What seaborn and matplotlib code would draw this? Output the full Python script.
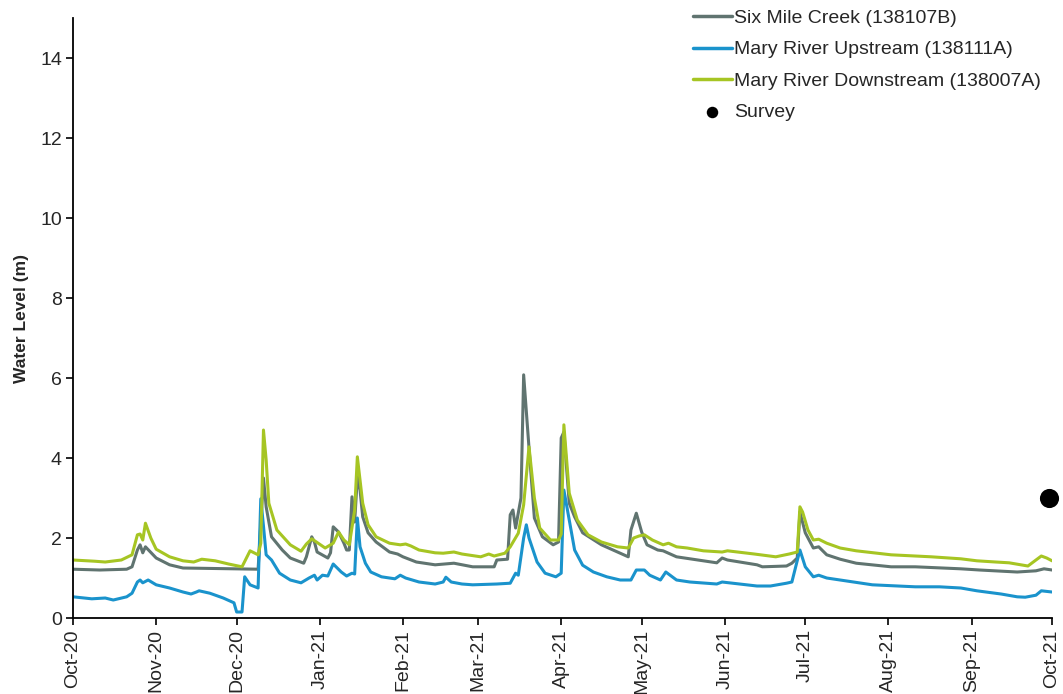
import matplotlib
matplotlib.use("Agg")
import matplotlib.pyplot as plt
import matplotlib.dates as mdates
import numpy as np
import pandas as pd
import seaborn as sns

# Daily water level readings, keyed by days since the start of the record
start_date = "2020-10-01"

six_mile_day = [0, 10, 20, 22, 24, 25, 26, 27, 31, 36, 41, 60, 69, 71, 72, 74, 78, 81, 86, 87,
                89, 90, 91, 95, 96, 97, 99, 101, 102, 103, 104, 105, 106, 107, 108, 110, 113, 118,
                121, 123, 128, 135, 142, 149, 157, 158, 162, 163, 164, 165, 167, 168, 170, 172,
                175, 179, 181, 182, 183, 185, 187, 190, 197, 203, 207, 208, 210, 212, 214, 218,
                220, 225, 233, 240, 242, 244, 255, 257, 266, 268, 270, 271, 273, 276, 278, 281,
                286, 292, 305, 314, 331, 338, 352, 359, 362, 365]
six_mile_level = [1.22, 1.20, 1.22, 1.28, 1.70, 1.83, 1.63, 1.78, 1.50, 1.33, 1.25, 1.23, 1.22,
                  3.50, 2.78, 2.03, 1.70, 1.50, 1.37, 1.53, 2.03, 1.90, 1.65, 1.50, 1.63, 2.28,
                  2.15, 1.87, 1.70, 1.70, 3.03, 2.40, 3.53, 3.20, 2.53, 2.13, 1.90, 1.65, 1.60,
                  1.53, 1.40, 1.33, 1.37, 1.28, 1.28, 1.45, 1.47, 2.58, 2.70, 2.25, 3.00, 6.08,
                  4.25, 2.50, 2.03, 1.83, 1.90, 4.50, 4.65, 2.87, 2.53, 2.13, 1.83, 1.65, 1.53,
                  2.20, 2.62, 2.15, 1.83, 1.70, 1.68, 1.53, 1.45, 1.38, 1.50, 1.45, 1.33, 1.28,
                  1.30, 1.37, 1.50, 2.65, 2.13, 1.75, 1.78, 1.58, 1.47, 1.37, 1.28, 1.28, 1.23,
                  1.20, 1.15, 1.18, 1.23, 1.20]

upstream_day = [0, 7, 12, 15, 20, 22, 24, 25, 26, 28, 31, 36, 41, 44, 46, 47, 51, 56, 60, 61,
                63, 64, 66, 69, 70, 71, 72, 74, 77, 81, 85, 88, 90, 91, 93, 95, 97, 100, 102,
                104, 105, 106, 107, 109, 111, 115, 120, 122, 124, 129, 135, 138, 139, 141, 145,
                149, 158, 163, 165, 166, 168, 169, 170, 173, 176, 180, 182, 183, 185, 187, 190,
                194, 199, 204, 208, 210, 213, 215, 219, 221, 225, 230, 240, 242, 255, 260, 266,
                268, 271, 273, 276, 278, 281, 286, 298, 314, 323, 331, 337, 346, 352, 355, 359,
                361, 365]
upstream_level = [0.53, 0.48, 0.50, 0.45, 0.53, 0.62, 0.90, 0.95, 0.88, 0.95, 0.83, 0.75, 0.65,
                  0.60, 0.65, 0.68, 0.62, 0.50, 0.38, 0.15, 0.15, 1.03, 0.83, 0.75, 2.98, 2.30,
                  1.58, 1.45, 1.12, 0.95, 0.88, 1.00, 1.07, 0.95, 1.07, 1.05, 1.35, 1.15, 1.05,
                  1.12, 1.10, 2.50, 1.78, 1.37, 1.15, 1.03, 0.98, 1.07, 1.00, 0.90, 0.85, 0.90,
                  1.02, 0.90, 0.85, 0.83, 0.85, 0.87, 1.12, 1.07, 2.00, 2.33, 2.00, 1.40, 1.12,
                  1.03, 1.12, 3.20, 2.45, 1.70, 1.32, 1.15, 1.03, 0.95, 0.95, 1.20, 1.20, 1.07,
                  0.95, 1.15, 0.95, 0.90, 0.85, 0.90, 0.80, 0.80, 0.87, 0.90, 1.70, 1.28, 1.03,
                  1.07, 1.00, 0.95, 0.83, 0.78, 0.78, 0.75, 0.68, 0.60, 0.53, 0.52, 0.57, 0.68,
                  0.65]

downstream_day = [0, 8, 12, 18, 22, 24, 25, 26, 27, 29, 31, 36, 41, 45, 48, 53, 58, 63, 66, 69,
                  70, 71, 72, 73, 76, 81, 85, 87, 89, 94, 97, 99, 101, 103, 105, 106, 108, 110,
                  113, 118, 122, 124, 126, 129, 135, 138, 142, 145, 152, 155, 157, 161, 163, 166,
                  168, 170, 172, 174, 178, 181, 182, 183, 185, 188, 192, 197, 203, 207, 209, 211,
                  213, 216, 220, 222, 225, 229, 235, 242, 244, 254, 262, 267, 270, 271, 272, 274,
                  276, 278, 281, 286, 292, 305, 314, 320, 331, 337, 344, 349, 356, 361, 363, 365]
downstream_level = [1.45, 1.42, 1.40, 1.45, 1.58, 2.08, 2.10, 1.95, 2.37, 2.00, 1.72, 1.53, 1.43,
                    1.40, 1.47, 1.43, 1.35, 1.28, 1.68, 1.58, 1.87, 4.70, 3.95, 2.87, 2.20, 1.83,
                    1.67, 1.85, 1.98, 1.75, 1.87, 2.15, 1.95, 1.83, 2.70, 4.03, 2.87, 2.33, 2.03,
                    1.87, 1.83, 1.85, 1.80, 1.70, 1.63, 1.62, 1.65, 1.60, 1.53, 1.60, 1.55, 1.62,
                    1.78, 2.12, 2.83, 4.28, 3.00, 2.25, 1.95, 1.95, 2.10, 4.83, 3.12, 2.45, 2.08,
                    1.90, 1.78, 1.75, 2.00, 2.05, 2.08, 1.95, 1.83, 1.87, 1.78, 1.75, 1.68, 1.65,
                    1.68, 1.60, 1.53, 1.60, 1.65, 2.78, 2.65, 2.20, 1.95, 1.97, 1.87, 1.75, 1.68,
                    1.58, 1.55, 1.53, 1.48, 1.43, 1.40, 1.38, 1.30, 1.55, 1.50, 1.43]

survey_date = ["2021-09-30"]
survey_level = [3.0]

site_names = ["Six Mile Creek (138107B)",
              "Mary River Upstream (138111A)",
              "Mary River Downstream (138007A)"]
site_colors = ["#607470", "#1a93cc", "#a6c523"]

t0 = pd.Timestamp(start_date)
frames = []
for name, days, levels in zip(site_names,
                              [six_mile_day, upstream_day, downstream_day],
                              [six_mile_level, upstream_level, downstream_level]):
    frames.append(pd.DataFrame({
        "date": t0 + pd.to_timedelta(days, unit="D"),
        "level": levels,
        "site": name,
    }))
levels_df = pd.concat(frames, ignore_index=True)
survey_df = pd.DataFrame({"date": pd.to_datetime(survey_date), "level": survey_level,
                          "site": "Survey"})

sns.set_theme(style="ticks")
plt.rcParams["font.family"] = ["Liberation Sans", "DejaVu Sans"]

fig = plt.figure(figsize=(10.63, 6.94), dpi=100)
ax = fig.add_axes([0.0687, 0.1095, 0.9210, 0.8645])

sns.lineplot(data=levels_df, x="date", y="level", hue="site", hue_order=site_names,
             palette=site_colors, linewidth=2.2, ax=ax, estimator=None, sort=True)
sns.scatterplot(data=survey_df, x="date", y="level", color="black", s=190,
                edgecolor="black", linewidth=0, ax=ax, label="Survey", clip_on=False, zorder=5)

ax.set_xlim(pd.Timestamp("2020-10-01"), pd.Timestamp("2021-10-01"))
ax.set_ylim(0, 15)
ax.set_yticks(np.arange(0, 15, 2))
ax.xaxis.set_major_locator(mdates.MonthLocator())
ax.xaxis.set_major_formatter(mdates.DateFormatter("%b-%y"))
ax.tick_params(axis="x", labelrotation=90, labelsize=14, length=5, width=1.2,
               color="black", pad=3)
ax.tick_params(axis="y", labelsize=14, length=5, width=1.2, color="black", pad=3)
for lbl in ax.get_xticklabels():
    lbl.set_horizontalalignment("center")

ax.set_xlabel("")
ax.set_ylabel("Water Level (m)", fontsize=12.5, fontweight="bold", labelpad=8)

for side in ["top", "right"]:
    ax.spines[side].set_visible(False)
for side in ["left", "bottom"]:
    ax.spines[side].set_color("black")
    ax.spines[side].set_linewidth(1.3)

handles, labels = ax.get_legend_handles_labels()
leg = ax.legend(handles, labels, loc="upper right", bbox_to_anchor=(0.997, 1.027),
                frameon=False, fontsize=14, handlelength=2.0, handletextpad=0.15,
                labelspacing=0.7, borderaxespad=0, markerscale=0.6)
for h in leg.legend_handles[:3]:
    h.set_linewidth(2.5)

fig.savefig("out.png", dpi=100)
